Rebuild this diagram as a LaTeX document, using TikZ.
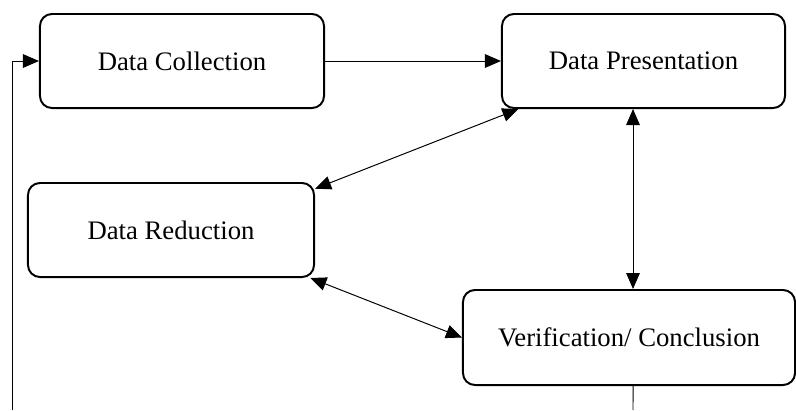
\documentclass[tikz,border=0pt]{standalone}
\usepackage{fontspec}
\setmainfont{Liberation Serif}
\usepackage{tikz}
\usetikzlibrary{positioning, shapes.misc, arrows.meta, calc}

\begin{document}
\begin{tikzpicture}[
    x=0.025cm, y=-0.025cm,
    stage/.style={rectangle, draw, rounded corners=0.3cm, line width=1.4pt,
        minimum height=2.35cm, font=\fontsize{19}{22}\selectfont},
    link/.style={line width=0.7pt},
    >={Triangle[length=4mm, width=3.4mm]}
]
\useasboundingbox (0,0) rectangle (796,410);

\node[stage, minimum width=7.1cm] (coll) at (182,61) {Data Collection};
\node[stage, minimum width=7.075cm] (pres) at (643.5,61) {Data Presentation};
\node[stage, minimum width=7.15cm] (red) at (171,230) {Data Reduction};
\node[stage, minimum width=8.3cm, minimum height=2.375cm] (ver) at (629,337.5) {Verification/ Conclusion};

% loose ends running off the bottom
\coordinate (back) at (12,410);
\coordinate (out) at (633,410);

\draw[link, ->] (coll) -- (pres);
\draw[link, <->] (pres.-159.5) -- (red.16.6);
\draw[link, <->] (red.-19.7) -- (ver.west);
\draw[link, <->] ([xshift=0.1cm]ver.north) -- ([xshift=0.1cm]ver.north |- pres.south);
\draw[link, ->] (back) |- (coll.west);
\draw[link] ([xshift=0.1cm]ver.south) -- (out);

\end{tikzpicture}
\end{document}
